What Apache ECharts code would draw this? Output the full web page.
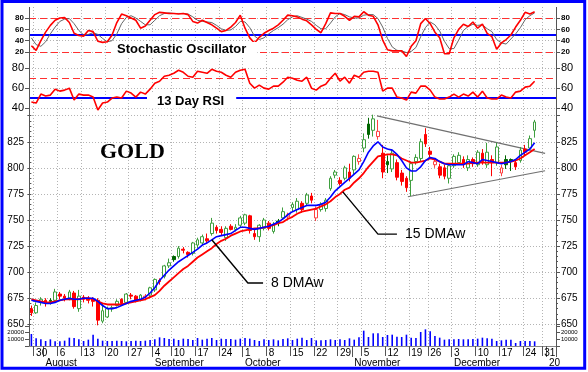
<!DOCTYPE html>
<html><head><meta charset="utf-8">
<script src="https://cdn.jsdelivr.net/npm/echarts@6/dist/echarts.min.js"></script>
<style>html,body{margin:0;padding:0;background:#fff}#c{width:588px;height:372px}</style>
</head><body><div id="c"></div>
<script>
// ---- categories (trading days, Jul 27 2007 .. Jan 3 2008) ----
const dates = ['07-27','07-30','07-31',
'08-01','08-02','08-03','08-06','08-07','08-08','08-09','08-10','08-13','08-14','08-15','08-16','08-17','08-20','08-21','08-22','08-23','08-24','08-27','08-28','08-29','08-30','08-31',
'09-04','09-05','09-06','09-07','09-10','09-11','09-12','09-13','09-14','09-17','09-18','09-19','09-20','09-21','09-24','09-25','09-26','09-27','09-28',
'10-01','10-02','10-03','10-04','10-05','10-08','10-09','10-10','10-11','10-12','10-15','10-16','10-17','10-18','10-19','10-22','10-23','10-24','10-25','10-26','10-29','10-30','10-31',
'11-01','11-02','11-05','11-06','11-07','11-08','11-09','11-12','11-13','11-14','11-15','11-16','11-19','11-20','11-21','11-23','11-26','11-27','11-28','11-29','11-30',
'12-03','12-04','12-05','12-06','12-07','12-10','12-11','12-12','12-13','12-14','12-17','12-18','12-19','12-20','12-21','12-24','12-26','12-27','12-28','12-31',
'01-02','01-03'];
const weekStarts = ['07-30','08-06','08-13','08-20','08-27','09-04','09-10','09-17','09-24','10-01','10-08','10-15','10-22','10-29','11-05','11-12','11-19','11-26','12-03','12-10','12-17','12-24','12-31'];
const monthStarts = ['08-01','09-04','10-01','11-01','12-03','01-02'];
const monthLabels = ['August','September','October','November','December','20'];

// ---- price (OHLC) ----
const openP = [665,661,671,673,673,673,679,677,675,680, 665,676,675,674,673,653,657,665,668,674, 671,678,677,673,676,678,683,692,696,706, 715,715,722,719,718,726,728,732,737,743, 741,733,744,741,745,747,754,737,734,742, 747,739,749,752,753,762,760,766,766,773, 752,760,761,780,793,788,790,796,798,806, 819,842,836,830,814,806,799,805,795,790, 788,806,809,832,816,803,801,800,790,802, 805,808,800,808,803,814,803,808,805,795, 808,808,805,807,818,819,836];
const closeP = [661,668,674,671,672,681,677,675,681,667, 677,674,673,672,654,663,665,666,672,670, 679,677,673,678,677,685,693,691,706,709, 712,723,721,717,728,731,734,730,747,740, 738,742,741,743,752,755,740,734,745,750, 742,746,747,758,755,765,768,760,774,769, 760,765,769,790,796,785,800,790,811,809, 827,832,847,835,796,803,814,791,787,781, 804,810,825,823,813,806,793,792,802,811, 812,804,808,804,815,806,815,805,820,800, 803,806,801,817,815,828,844];
const lowP = [658,660,668,667,669,671,674,672,673,665, 662,671,670,667,649,651,656,662,667,668, 670,674,671,672,673,676,681,688,694,704, 710,713,718,714,716,723,726,728,735,737, 735,730,740,739,743,745,737,731,729,740, 740,737,744,750,751,758,757,757,764,766, 749,758,758,778,790,783,788,787,794,803, 815,828,830,827,790,795,796,788,783,777, 773,803,806,820,810,800,790,789,785,800, 803,800,797,801,801,803,800,792,802,792, 799,797,798,805,812,817,829];
const highP = [668,671,676,675,675,684,681,679,683,682, 683,678,677,676,675,670,667,668,674,675, 680,680,678,679,679,686,694,694,707,713, 716,725,724,720,729,733,736,737,752,745, 744,744,746,746,754,756,755,742,746,752, 749,748,751,762,757,767,771,768,776,776, 763,767,771,792,798,791,802,804,812,813, 833,848,851,846,822,812,818,808,798,792, 806,813,828,838,820,809,804,803,804,813, 815,811,812,810,817,818,824,812,824,803, 812,809,807,820,822,831,846];

// ---- moving averages ----
const dma8 = [673,672,671,670,670,671,673,674,675,674, 674,675,675,675,672,668,665,665,666,668, 670,672,673,674,676,680,685,692,697,702, 706,710,713,716,719,722,726,728,731,734, 735,736,737,740,743,743,742,741,742,743, 744,746,748,751,755,758,760,762,764,764, 764,765,767,772,778,782,786,790,794,798, 806,815,821,825,820,818,817,813,807,800, 797,797,801,807,810,809,806,804,803,803, 803,803,806,805,804,808,807,806,805,804, 805,806,808,812,815,818,824];
const dma15 = [674,673,672,671,671,672,673,674,674,674, 674,675,675,674,672,670,669,669,669,669, 670,671,672,673,674,676,678,682,687,691, 695,699,703,706,710,714,717,720,723,727, 730,732,735,737,739,740,741,742,742,743, 744,745,747,748,751,753,756,758,759,760, 761,763,765,768,772,775,779,781,786,790, 795,801,806,811,812,813,813,812,809,807, 805,805,806,807,809,808,806,804,804,804, 804,804,804,805,805,805,805,805,805,805, 805,806,807,809,812,815,818];

// ---- oscillators ----
const stochK = [31,23,40,55,67,76,80,81,72,53, 49,48,58,56,39,37,38,50,72,87, 84,80,76,62,66,76,86,90,89,88, 88,87,88,86,74,71,76,72,68,62, 56,58,64,72,85,62,45,36,46,53, 58,62,68,76,85,84,82,78,75,68, 60,54,70,89,88,88,83,76,83,82, 91,85,83,68,41,24,22,22,22,12, 30,40,70,79,70,55,45,17,17,45, 60,69,65,73,62,69,53,47,25,36, 42,50,64,76,90,87,91];
const stochD = [45,33,30,38,52,64,74,78,79,70, 58,50,51,54,51,44,38,40,52,70, 81,84,80,74,68,68,76,84,88,89, 88,88,88,87,82,76,74,73,72,67, 61,58,59,65,74,73,63,48,42,45, 52,58,63,69,77,82,84,81,78,74, 67,61,61,71,82,88,86,82,80,80, 85,86,86,79,64,44,29,23,22,19, 21,28,47,63,73,68,57,39,26,26, 41,58,65,69,67,68,61,56,42,36, 34,43,52,63,77,84,89];
const rsi13 = [46,45,54,52,53,59,57,58,60,48, 54,53,53,51,38,45,46,50,51,50, 57,55,51,56,54,59,65,67,72,73, 75,78,76,72,71,77,76,75,79,77, 76,73,71,76,78,79,65,60,63,60, 59,62,62,66,71,70,68,67,71,60, 58,62,64,70,75,67,71,65,73,71, 76,77,77,76,57,60,60,51,50,48, 56,55,62,62,58,51,49,49,51,54, 51,54,52,56,51,57,50,49,49,53, 51,50,56,57,61,62,67];
const stochLevels = [80, 20];
const stochMid = 50;
const rsiLevel = 70;
const rsiMid = 50;

// ---- volume ----
const volume = [18000,11500,10000,7500,10000,7000,7000,8000,12500,12000, 10000,7500,9500,17000,11000,8000,7500,7500,8000,7500, 7000,7500,8000,7500,8000,9000,10000,13000,12000,10500, 11000,9000,11000,10500,9000,12000,9500,11000,12000,9000, 11000,10500,10500,9500,11000,12000,11000,9000,7500,10000, 9000,10000,8500,10500,11500,9000,11000,12500,9000,12000, 8500,8500,9000,10000,9000,10000,9000,11500,9500,13000, 23000,13500,19000,19000,13500,16500,17000,14000,13500,17000, 12500,12000,21000,25000,22000,15000,12500,9500,10000,10000, 10500,10000,10000,10500,11000,12500,11500,11000,7500,8500, 9500,9500,4500,7500,7500,7500,7000];

// ---- axis ticks ----
const priceTicks = [650, 850, 25];
const volTicks = [0, 30000, 10000];

// ---- annotations (in [day index, price]) ----
const upperTrend = [[72.8, 849.9], [108.2, 813.9]];
const lowerTrend = [[79.3, 772.3], [108.2, 797.2]];
const leader8 = [[38.0, 731], [45.6, 689.6], [48.8, 689.6]];
const leader15 = [[65.6, 777], [73.0, 736.5], [77.0, 736.5]];

const F = '"Liberation Sans", Arial, sans-serif';
const GRID_C = '#b4b4b4';
const AX_C = '#555';
const weekSet = new Set(weekStarts);
const monthMap = new Map(monthStarts.map((d, i) => [d, monthLabels[i]]));
const weekFn = (i, v) => weekSet.has(v);
const monthFn = (i, v) => monthMap.has(v);
const dotted = { show: true, lineStyle: { color: GRID_C, type: [1, 2] } };

// candle colouring rule: hollow if close>open, green if close >= previous close
const candles = openP.map((o, i) => {
  const c = closeP[i];
  const prev = i > 0 ? closeP[i - 1] : o;
  const up = c >= prev;
  const hollow = c > o;
  let stroke, fill;
  if (hollow) { stroke = up ? '#3f9f3f' : '#ff4040'; fill = '#ffffff'; }
  else { stroke = up ? '#006600' : '#ff0000'; fill = stroke; }
  return { value: [o, c, lowP[i], highP[i]], itemStyle: { color: fill, color0: fill, borderColor: stroke, borderColor0: stroke, borderWidth: 1 } };
});

const hidX = (g) => ({ type: 'category', gridIndex: g, data: dates, boundaryGap: true, show: false });
const yBase = (g, pos, min, max, interval, fs, bold, fmt, minor, split) => ({
  type: 'value', gridIndex: g, position: pos, min, max, interval,
  axisLine: { show: false },
  axisTick: { show: true, length: 4, lineStyle: { color: AX_C } },
  minorTick: minor ? { show: true, splitNumber: 5, length: 2, lineStyle: { color: AX_C } } : { show: false },
  splitLine: split ? dotted : { show: false },
  axisLabel: { show: true, fontSize: fs, fontWeight: bold ? 'bold' : 'normal', fontFamily: F, color: '#000', margin: 5, formatter: fmt }
});
const leader = (pts, text) => ({
  type: 'line', xAxisIndex: 5, yAxisIndex: 4, data: pts, symbol: 'none', clip: false, z: 7,
  lineStyle: { color: '#000', width: 1.4 },
  endLabel: { show: true, formatter: text, distance: 8, fontSize: 14, fontFamily: F, color: '#000' }
});

const chart = echarts.init(document.getElementById('c'));
const option = {
  animation: false,
  backgroundColor: '#ffffff',
  grid: [
    { left: 29, right: 32, top: 18, height: 34 },
    { left: 29, right: 32, top: 68.3, height: 39.7 },
    { left: 29, right: 32, top: 115.7, height: 208.6 },
    { left: 29, right: 32, top: 326, height: 20 },
    { left: 29, right: 32, top: 7, height: 339 }
  ],
  xAxis: [
    hidX(0), hidX(1), hidX(2),
    { type: 'category', gridIndex: 3, data: dates, boundaryGap: true,
      axisLine: { show: true, lineStyle: { color: AX_C } },
      axisTick: { show: true, interval: weekFn, length: 10, lineStyle: { color: AX_C } },
      axisLabel: { show: true, interval: weekFn, formatter: v => String(parseInt(v.slice(3), 10)), align: 'left', margin: 2, fontSize: 10, fontFamily: F, color: '#000' },
      splitLine: { show: false } },
    { type: 'category', gridIndex: 3, data: dates, boundaryGap: true, position: 'bottom', offset: 10,
      axisLine: { show: true, lineStyle: { color: '#888' } },
      axisTick: { show: true, interval: monthFn, length: 11, lineStyle: { color: AX_C } },
      axisLabel: { show: true, interval: monthFn, formatter: v => monthMap.get(v) || '', align: 'left', margin: 2, fontSize: 10, fontFamily: F, color: '#000' },
      splitLine: { show: false } },
    { type: 'value', gridIndex: 2, min: -0.5, max: dates.length - 0.5, show: false },
    { type: 'category', gridIndex: 4, data: dates, boundaryGap: true,
      axisLine: { show: false }, axisTick: { show: false }, axisLabel: { show: false },
      splitLine: { show: true, interval: weekFn, lineStyle: { color: GRID_C, type: [1, 2] } } }
  ],
  yAxis: [
    yBase(0, 'left', 20, 80, 20, 8, true, undefined, false, true),
    yBase(0, 'right', 20, 80, 20, 8, true),
    yBase(1, 'left', 40, 80, 20, 11, false, undefined, false, true),
    yBase(1, 'right', 40, 80, 20, 11, false),
    yBase(2, 'left', priceTicks[0], priceTicks[1], priceTicks[2], 10, false, v => v >= priceTicks[1] ? '' : v, true, true),
    yBase(2, 'right', priceTicks[0], priceTicks[1], priceTicks[2], 10, false, v => v >= priceTicks[1] ? '' : v, true),
    yBase(3, 'left', volTicks[0], volTicks[1], volTicks[2], 6, false, v => (v > volTicks[0] && v < volTicks[1]) ? v : ''),
    yBase(3, 'right', volTicks[0], volTicks[1], volTicks[2], 6, false, v => (v > volTicks[0] && v < volTicks[1]) ? v : ''),
    { type: 'value', gridIndex: 4, show: false, min: 0, max: 1 }
  ],
  series: [
    { type: 'line', xAxisIndex: 0, yAxisIndex: 0, data: stochD, symbol: 'none', clip: false,
      lineStyle: { color: '#666', width: 1 }, z: 3 },
    { type: 'line', xAxisIndex: 0, yAxisIndex: 0, data: stochK, symbol: 'none', clip: false,
      lineStyle: { color: '#ff0000', width: 1.6 }, z: 4,
      markLine: { silent: true, symbol: 'none', label: { show: false }, z: 2,
        data: [
          { yAxis: stochLevels[0], lineStyle: { color: '#ff3030', width: 1, type: [7, 4] } },
          { yAxis: stochLevels[1], lineStyle: { color: '#ff3030', width: 1, type: [7, 4] } },
          { yAxis: stochMid, lineStyle: { color: '#0000ff', width: 2, type: 'solid' } }
        ] } },
    { type: 'line', xAxisIndex: 1, yAxisIndex: 2, data: rsi13, symbol: 'none', clip: false,
      lineStyle: { color: '#ff0000', width: 1.6 }, z: 4,
      markLine: { silent: true, symbol: 'none', label: { show: false }, z: 2,
        data: [
          { yAxis: rsiLevel, lineStyle: { color: '#ff3030', width: 1, type: [7, 4] } },
          { yAxis: rsiMid, lineStyle: { color: '#0000ff', width: 2, type: 'solid' } }
        ] } },
    { type: 'candlestick', xAxisIndex: 2, yAxisIndex: 4, data: candles, barWidth: 3.2, clip: false, z: 3 },
    { type: 'line', xAxisIndex: 2, yAxisIndex: 4, data: dma15, symbol: 'none', clip: false,
      lineStyle: { color: '#ff0000', width: 1.8 }, z: 5 },
    { type: 'line', xAxisIndex: 2, yAxisIndex: 4, data: dma8, symbol: 'none', clip: false,
      lineStyle: { color: '#0000ff', width: 1.6 }, z: 6 },
    { type: 'bar', xAxisIndex: 3, yAxisIndex: 6, data: volume, barWidth: 1.6, itemStyle: { color: '#0000ff' } },
    { type: 'line', xAxisIndex: 5, yAxisIndex: 4, data: upperTrend, symbol: 'none', clip: false,
      lineStyle: { color: '#707070', width: 1.2 }, z: 2 },
    { type: 'line', xAxisIndex: 5, yAxisIndex: 4, data: lowerTrend, symbol: 'none', clip: false,
      lineStyle: { color: '#707070', width: 1.2 }, z: 2 },
    leader(leader8, '8 DMAw'),
    leader(leader15, '15 DMAw')
  ],
  graphic: [
    { type: 'line', shape: { x1: 29.5, y1: 7, x2: 29.5, y2: 346 }, style: { stroke: AX_C, lineWidth: 1 }, z: 50 },
    { type: 'line', shape: { x1: 556.5, y1: 7, x2: 556.5, y2: 346 }, style: { stroke: AX_C, lineWidth: 1 }, z: 50 },
    { type: 'text', x: 111, y: 49.5, z: 60,
      style: { text: 'Stochastic Oscillator', font: 'bold 13px "Liberation Sans", Arial', fill: '#000', verticalAlign: 'middle', backgroundColor: '#fff', padding: [1, 11, 1, 6] } },
    { type: 'text', x: 147, y: 101, z: 60,
      style: { text: '13 Day RSI', font: 'bold 13px "Liberation Sans", Arial', fill: '#000', verticalAlign: 'middle', backgroundColor: '#fff', padding: [1, 12, 1, 10] } },
    { type: 'text', x: 100, y: 152, z: 60,
      style: { text: 'GOLD', font: 'bold 22px "Liberation Serif", "Times New Roman", serif', fill: '#000', verticalAlign: 'middle' } },
    { type: 'rect', shape: { x: 2, y: 1.5, width: 582.7, height: 366.8 }, style: { fill: 'none', stroke: '#0000ff', lineWidth: 3 }, z: 100 }
  ]
};
chart.setOption(option);
</script>
</body></html>
